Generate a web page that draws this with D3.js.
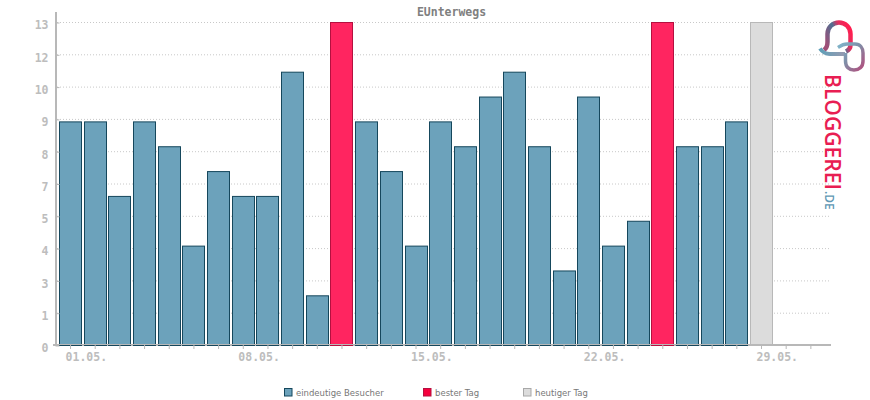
<!DOCTYPE html>
<html>
<head>
<meta charset="utf-8">
<script src="https://cdnjs.cloudflare.com/ajax/libs/d3/7.8.5/d3.min.js"></script>
<style>
html, body { margin: 0; padding: 0; background: #fff; }
svg { display: block; }
</style>
</head>
<body>
<script>
var days = ["01.05.","02.05.","03.05.","04.05.","05.05.","06.05.","07.05.","08.05.","09.05.","10.05.",
            "11.05.","12.05.","13.05.","14.05.","15.05.","16.05.","17.05.","18.05.","19.05.","20.05.",
            "21.05.","22.05.","23.05.","24.05.","25.05.","26.05.","27.05.","28.05.","29.05.","30.05.","31.05."];
var visitors = [9,9,6,9,8,4,7,6,6,11,2,13,9,7,4,9,8,10,11,8,3,10,4,5,13,8,8,9];
var bestDays = ["12.05.","25.05."];
var today = "29.05.";
var todayValue = 13;
var labelledDays = ["01.05.","08.05.","15.05.","22.05.","29.05."];
var yTicks = [0,1.3,2.6,3.9,5.2,6.5,7.8,9.1,10.4,11.7,13];
var yTickLabels = ["0","1","3","4","5","7","8","9","10","12","13"];
var legendNames = ["eindeutige Besucher","bester Tag","heutiger Tag"];

var colors = {
    bar: "#6ca2bb", barLine: "#15475c",
    best: "#ff2560", bestLine: "#b5103f",
    today: "#dcdcdc", todayLine: "#b8b8b8",
    axis: "#b8b8b8", grid: "#c8c8c8", label: "#bdbdbd"
};
var pixelFont = "'DejaVu Sans Mono', monospace";

var svg = d3.select("body").append("svg").attr("width", 870).attr("height", 400);

var x = d3.scaleBand().domain(days).range([58.2, 823.2]);
var y = d3.scaleLinear().domain([0, 13]).range([345.5, 22.5]);

svg.append("text")
    .attr("x", 451.5).attr("y", 16)
    .attr("text-anchor", "middle")
    .attr("font-family", pixelFont).attr("font-size", 11.5).attr("font-weight", "bold")
    .attr("fill", "#808080")
    .text("EUnterwegs");

// dotted grid
svg.append("g").selectAll("line").data(yTicks.slice(1)).join("line")
    .attr("x1", 57).attr("x2", 830)
    .attr("y1", d => y(d)).attr("y2", d => y(d))
    .attr("stroke", colors.grid)
    .attr("stroke-dasharray", "1,2");

// x axis line goes under the bars
svg.append("line")
    .attr("x1", 53).attr("x2", 831).attr("y1", 345).attr("y2", 345)
    .attr("stroke", colors.axis).attr("stroke-width", 2);

// bars
var bars = visitors.map((v, i) => ({day: days[i], value: v}));
function barFill(d) { return bestDays.includes(d.day) ? colors.best : colors.bar; }
function barLine(d) { return bestDays.includes(d.day) ? colors.bestLine : colors.barLine; }
function barLeft(day) { return Math.floor(x(day) + x.bandwidth() / 2 - 11) + 0.5; }

svg.append("g").selectAll("rect").data(bars).join("rect")
    .attr("x", d => barLeft(d.day))
    .attr("y", d => y(d.value))
    .attr("width", 22)
    .attr("height", d => y(0) - y(d.value))
    .attr("fill", barFill)
    .attr("stroke", barLine)
    .attr("stroke-width", 1);

svg.append("rect")
    .attr("x", barLeft(today))
    .attr("y", y(todayValue))
    .attr("width", 22)
    .attr("height", y(0) - y(todayValue))
    .attr("fill", colors.today)
    .attr("stroke", colors.todayLine);

// thin grey base on top of the bars
svg.append("line")
    .attr("x1", 57).attr("x2", 831).attr("y1", 344.5).attr("y2", 344.5)
    .attr("stroke", colors.axis);

// y axis
var yAxis = d3.axisLeft(y).tickValues(yTicks)
    .tickFormat((d, i) => yTickLabels[i])
    .tickSize(0).tickPadding(7);
var gy = svg.append("g").attr("transform", "translate(55.5,0)").call(yAxis);
gy.select(".domain").remove();
gy.selectAll("text")
    .attr("dy", "0.55em")
    .attr("font-family", pixelFont).attr("font-size", 11.5).attr("font-weight", "bold")
    .attr("fill", colors.label);
gy.selectAll(".tick").append("line")
    .attr("x1", 0).attr("x2", 4)
    .attr("stroke", colors.axis);
svg.append("line")
    .attr("x1", 56).attr("x2", 56).attr("y1", 12).attr("y2", 346)
    .attr("stroke", colors.axis).attr("stroke-width", 2);

// x axis
var xAxis = d3.axisBottom(x).tickValues(days)
    .tickFormat(d => labelledDays.includes(d) ? d : "")
    .tickSize(4).tickPadding(4);
var gx = svg.append("g").attr("transform", "translate(0,345)").call(xAxis);
gx.select(".domain").remove();
gx.selectAll("line").attr("stroke", colors.axis);
gx.selectAll("text")
    .attr("text-anchor", "start").attr("dx", -5)
    .attr("font-family", pixelFont).attr("font-size", 11.5).attr("font-weight", "bold")
    .attr("fill", colors.label);

// legend
var legendX = [284, 423, 523];
var legendFill = [colors.bar, "#f5003d", colors.today];
var legendLine = [colors.barLine, "#b5103f", "#a8a8a8"];
var lg = svg.append("g").selectAll("g").data(legendNames).join("g")
    .attr("transform", (d, i) => "translate(" + legendX[i] + ",388)");
lg.append("rect")
    .attr("x", 0.5).attr("y", 0.5).attr("width", 7.5).attr("height", 7.5)
    .attr("fill", (d, i) => legendFill[i])
    .attr("stroke", (d, i) => legendLine[i]);
lg.append("text")
    .attr("x", 12).attr("y", 7.5)
    .attr("font-family", "'DejaVu Sans', sans-serif").attr("font-size", 8.5)
    .attr("fill", "#777")
    .text(d => d);

// logo
var defs = svg.append("defs");
function gradient(id, x1, y1, x2, y2, stops) {
    var g = defs.append("linearGradient").attr("id", id)
        .attr("gradientUnits", "userSpaceOnUse")
        .attr("x1", x1).attr("y1", y1).attr("x2", x2).attr("y2", y2);
    stops.forEach(s => g.append("stop").attr("offset", s[0]).attr("stop-color", s[1]));
}
gradient("logoArch", 826, 44, 851, 32, [[0, "#a04f78"], [0.5, "#4f6f92"], [0.72, "#e0305f"], [1, "#ff1e50"]]);
gradient("logoFoot", 820, 50, 846, 54, [[0, "#5f9fb8"], [1, "#9a9ab0"]]);
gradient("logoRing", 840, 46, 865, 66, [[0, "#7fb0c6"], [0.45, "#7f8fa8"], [1, "#b0507e"]]);
gradient("logoText", 0, 74, 0, 212, [[0, "#e81e52"], [0.5, "#8a4c78"], [0.8, "#4f6f92"], [1, "#6ca2bb"]]);

svg.append("path")
    .attr("d", "M824,50 C827,48 827.5,46 827.5,42 V34 C827.5,27 833,22.5 839,22.5 C845,22.5 850.5,27 850.5,34 V45 C850.5,48 849,50 846,51.5")
    .attr("fill", "none").attr("stroke", "url(#logoArch)").attr("stroke-width", 4.5);
svg.append("path")
    .attr("d", "M820,48.5 C823,53 826,54 830,54 H845")
    .attr("fill", "none").attr("stroke", "url(#logoFoot)").attr("stroke-width", 4);
svg.append("path")
    .attr("d", "M838,47.5 C841,45.5 843,44 847,44 H855 C860,44 863,48 863,53 V61 C863,67 859,70 854,70 C849,70 845.5,67 845.5,61 V53")
    .attr("fill", "none").attr("stroke", "url(#logoRing)").attr("stroke-width", 3.5);

svg.append("text")
    .attr("transform", "translate(825,74) rotate(90)")
    .attr("font-family", "'Open Sans', sans-serif").attr("font-size", 21).attr("font-weight", 600)
    .attr("textLength", 116).attr("lengthAdjust", "spacingAndGlyphs")
    .attr("fill", "url(#logoText)")
    .text("BLOGGEREI");
svg.append("text")
    .attr("transform", "translate(825,191) rotate(90)")
    .attr("font-family", "'Open Sans', sans-serif").attr("font-size", 12).attr("font-weight", 600)
    .attr("fill", "#5f98b4")
    .text(".DE");
</script>
</body>
</html>
